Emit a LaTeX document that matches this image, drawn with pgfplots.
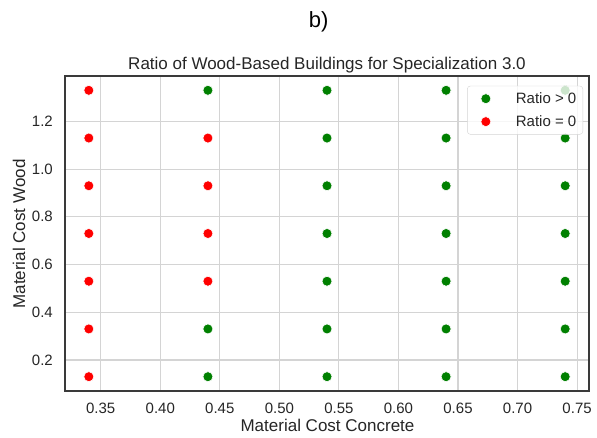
\documentclass[border=0pt]{standalone}
\usepackage{pgfplots}
\pgfplotsset{compat=1.18}
\usepackage{fontspec}
\setmainfont{Liberation Sans}
\definecolor{mplgreen}{HTML}{008000}
\definecolor{mplred}{HTML}{FF0000}
\definecolor{txt}{HTML}{262626}
\definecolor{framec}{HTML}{3A3A3A}
\definecolor{gridc}{HTML}{D4D4D4}
\begin{document}
\begin{tikzpicture}[x=1pt,y=1pt]
\path[use as bounding box, fill=white] (0,0) rectangle (597,438);
\begin{axis}[
  at={(65pt,47pt)}, anchor=south west,
  scale only axis, width=524pt, height=315pt,
  xmin=0.32, xmax=0.76, ymin=0.07, ymax=1.39,
  xtick={0.35,0.40,0.45,0.50,0.55,0.60,0.65,0.70,0.75},
  ytick={0.2,0.4,0.6,0.8,1.0,1.2},
  grid=major, major grid style={gridc, line width=1.1pt},
  axis line style={framec, line width=1.6pt},
  major tick length=0pt, tick style={draw=none},
  /pgf/number format/assume math mode=true,
  xticklabel style={/pgf/number format/fixed, /pgf/number format/fixed zerofill, /pgf/number format/precision=2,
    font=\fontsize{15}{18}\selectfont, text=txt, anchor=base, inner sep=0pt, yshift=-22.3pt},
  yticklabel style={/pgf/number format/fixed, /pgf/number format/fixed zerofill, /pgf/number format/precision=1,
    font=\fontsize{15}{18}\selectfont, text=txt, anchor=east, inner sep=0pt, xshift=-12pt},
  legend style={at={(1,1)}, anchor=north east, xshift=-6pt, yshift=-9.8pt,
    draw=gridc, fill=white, fill opacity=0.8, text opacity=1, rounded corners=3pt,
    font=\fontsize{15}{18}\selectfont, text=txt, inner xsep=4pt, inner ysep=4pt, row sep=5.6pt,
    nodes={inner sep=2.5pt}},
  legend image code/.code={\path[mark repeat=2, mark phase=2, #1, draw=none, fill opacity=1, draw opacity=1] plot coordinates {(0pt,0pt) (14.5pt,0pt) (42pt,0pt)};},
  legend cell align=left,
]
\addplot[draw=none, mark=*, mark size=5pt, mark options={fill=mplgreen, draw=white, line width=0.6pt}]
coordinates {
(0.44,0.13) (0.44,0.33) (0.44,1.33)
(0.54,0.13) (0.54,0.33) (0.54,0.53) (0.54,0.73) (0.54,0.93) (0.54,1.13) (0.54,1.33)
(0.64,0.13) (0.64,0.33) (0.64,0.53) (0.64,0.73) (0.64,0.93) (0.64,1.13) (0.64,1.33)
(0.74,0.13) (0.74,0.33) (0.74,0.53) (0.74,0.73) (0.74,0.93) (0.74,1.13) (0.74,1.33)
};
\addlegendentry{Ratio > 0}
\addplot[draw=none, mark=*, mark size=5pt, mark options={fill=mplred, draw=white, line width=0.6pt}]
coordinates {
(0.34,0.13) (0.34,0.33) (0.34,0.53) (0.34,0.73) (0.34,0.93) (0.34,1.13) (0.34,1.33)
(0.44,0.53) (0.44,0.73) (0.44,0.93) (0.44,1.13)
};
\addlegendentry{Ratio = 0}
\end{axis}
\node[anchor=base, text=txt, font=\fontsize{17}{20}\selectfont] at (327,368) {Ratio of Wood-Based Buildings for Specialization 3.0};
\node[anchor=base, text=txt, font=\fontsize{17}{20}\selectfont] at (327.5,6.3) {Material Cost Concrete};
\node[rotate=90, text=txt, font=\fontsize{17}{20}\selectfont, inner sep=0pt] at (19,204) {Material Cost Wood};
\node[anchor=base, text=black, font=\fontsize{22}{26}\selectfont] at (318.7,410) {b)};
\end{tikzpicture}
\end{document}
